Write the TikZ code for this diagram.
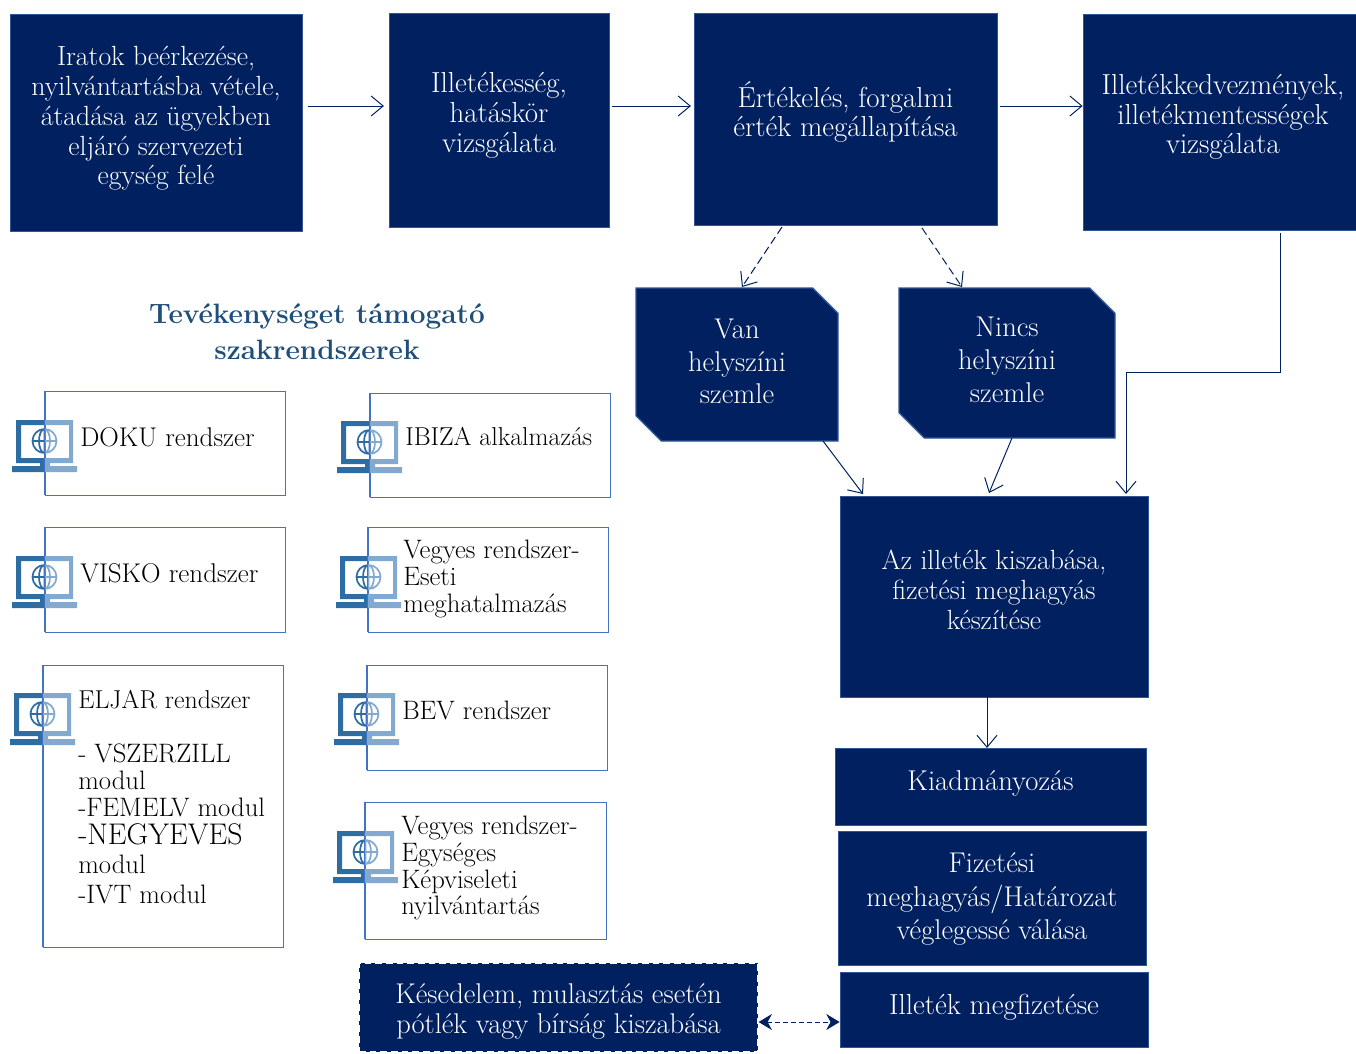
\documentclass[tikz,border=0pt]{standalone}
\usetikzlibrary{arrows.meta,shapes.misc,calc}
\definecolor{navy}{HTML}{002060}
\definecolor{edge}{HTML}{2F5597}
\definecolor{thinb}{HTML}{4472C4}
\definecolor{titleblue}{HTML}{1F4E79}
\definecolor{icd}{HTML}{2E6CA4}
\definecolor{icl}{HTML}{82A9CF}
\tikzset{
 x=0.75pt,y=-0.75pt,
 box/.style={draw=edge,line width=0.6pt,fill=navy,inner sep=0pt,anchor=center},
 snip/.style={box,line width=1.1pt,chamfered rectangle,chamfered rectangle corners={north east,south west},chamfered rectangle xsep=9.5pt,chamfered rectangle ysep=9.5pt,text=white,align=center,font=\fontsize{21.4}{24.5}\selectfont},
 wt/.style={text=white,align=center,inner sep=0pt,font=\fontsize{20.8}{22.3}\selectfont},
 wtb/.style={wt,font=\fontsize{21.7}{22.3}\selectfont},
 sysbox/.style={draw=thinb,line width=0.7pt,inner sep=0pt},
 bt/.style={text=black,align=left,inner sep=0pt,anchor=north west,font=\fontsize{20}{20}\selectfont},
 arr/.style={draw=navy,line width=0.75pt,-{Straight Barb[length=9pt,width=15pt,line width=0.75pt]}},
 darr/.style={arr,dash pattern=on 6pt off 3pt},
 both/.style={draw=navy,line width=0.75pt,dash pattern=on 3.5pt off 2.5pt,{Stealth[length=10pt,width=12pt]}-{Stealth[length=10pt,width=12pt]}},
}
\newcommand\laptopshape[1]{%
 \fill[#1,even odd rule] (16,420) rectangle (73,463) (21,425) rectangle (69,458);
 \fill[#1] (12,466) rectangle (77,472) (40,463) rectangle (50,467);
 \draw[#1,line width=1.3pt] (44.5,441) circle (12) (44.5,429) -- (44.5,453) (32.5,441) -- (56.5,441)
   (44.5,441) ellipse (5.5 and 12);
}
\newcommand\laptop[3]{%
 \begin{scope}[shift={(#1,#2)}]
  \begin{scope}\clip (0,400) rectangle (#3,490); \laptopshape{icd}\end{scope}
  \begin{scope}\clip (#3,400) rectangle (90,490); \laptopshape{icl}\end{scope}
 \end{scope}}
\begin{document}
\begin{tikzpicture}
\useasboundingbox (0,0) rectangle (1356,1053);
\node[box,minimum width=219pt,minimum height=162.75pt] (a) at (156,122.5) {};
\node[box,minimum width=165pt,minimum height=160.5pt] (b) at (499,120) {};
\node[box,minimum width=227.25pt,minimum height=159pt] (c) at (845.5,119) {};
\node[box,minimum width=204.75pt,minimum height=162pt] (d) at (1219.5,122) {};
\node[wt] (at) at (156,118.5) {Iratok beérkezése,\\nyilvántartásba vétele,\\átadása az ügyekben\\eljáró szervezeti\\egység felé};
\node[wtb] (bt) at (499,115.5) {Illetékesség,\\hatáskör\\vizsgálata};
\node[wtb] (ct) at (845.5,112) {Értékelés, forgalmi\\érték megállapítása};
\node[wtb] (dt) at (1223,117) {Illetékkedvezmények,\\illetékmentességek\\vizsgálata};
\node[snip,minimum width=151.5pt,minimum height=114.75pt] (van) at (737,364.5) {\raisebox{1.5pt}{\begin{tabular}{@{}c@{}}Van\\helyszíni\\szemle\end{tabular}}};
\node[snip,minimum width=162pt,minimum height=112.5pt] (nincs) at (1007,363) {\raisebox{1pt}{\begin{tabular}{@{}c@{}}Nincs\\helyszíni\\szemle\end{tabular}}};
\node[box,minimum width=231pt,minimum height=150.75pt] (ill) at (994,596.5) {};
\node[wt] (illt) at (994,590) {Az illeték kiszabása,\\fizetési meghagyás\\készítése};
\node[box,minimum width=233.25pt,minimum height=57.75pt,text=white,font=\fontsize{21.5}{22}\selectfont] (kiad) at (990.5,786.5) {\raisebox{9.5pt}{Kiadmányozás}};
\node[box,minimum width=231pt,minimum height=100.5pt] (fiz) at (992,898) {};
\node[wt,font=\fontsize{21.4}{24.8}\selectfont] (fizt) at (992,899) {Fizetési\\meghagyás/Határozat\\véglegessé válása};
\node[box,minimum width=231pt,minimum height=56.25pt,text=white,font=\fontsize{21.7}{22}\selectfont] (megf) at (994,1009.5) {\raisebox{8pt}{Illeték megfizetése}};
\node[box,draw=white,line width=0.9pt,dash pattern=on 5pt off 3pt,minimum width=299.25pt,minimum height=66.75pt] (kes) at (558.5,1007.5) {};
\node[wt,font=\fontsize{21.4}{22.5}\selectfont] (kest) at (558.5,1011) {Késedelem, mulasztás esetén\\pótlék vagy bírság kiszabása};
\draw[arr,shorten <=4.5pt,shorten >=3.5pt] (a.east |- 0,106) -- (b.west |- 0,106);
\draw[arr,shorten <=2pt,shorten >=2pt] (b.east |- 0,106) -- (c.west |- 0,106);
\draw[arr,shorten <=2pt] (c.east |- 0,106) -- (d.west |- 0,106);
\coordinate (cs1) at (782,227); \coordinate (cs2) at (922,228);
\coordinate (vt) at (742,287); \coordinate (nt) at (962,287);
\draw[darr] (cs1) -- (vt);
\draw[darr] (cs2) -- (nt);
\coordinate (vb) at (823,441); \coordinate (vi) at (863,494);
\coordinate (nb) at (1012,438); \coordinate (ni) at (989,493);
\draw[arr] (vb) -- (vi);
\draw[arr] (nb) -- (ni);
\coordinate (ds) at (1280,233); \coordinate (di) at (1126,494);
\draw[arr] (ds) -- (1280,372) -- (1126,372) -- (di);
\draw[arr] (987,697) -- (987,748);
\draw[both] (kes.east |- 0,1022) -- (megf.west |- 0,1022);
\node[text=titleblue,align=center,inner sep=0pt,font=\fontsize{21}{27}\selectfont\bfseries] (title) at (317,332) {Tevékenységet támogató\\szakrendszerek};
\node[sysbox,minimum width=180pt,minimum height=78pt] (doku) at (165,443) {};
\node[sysbox,minimum width=180pt,minimum height=78pt] (ibiza) at (490,445) {};
\node[sysbox,minimum width=180pt,minimum height=78.75pt] (visko) at (165,579.5) {};
\node[sysbox,minimum width=180pt,minimum height=78.75pt] (veg1) at (488,579.5) {};
\node[sysbox,minimum width=180pt,minimum height=211.5pt] (eljar) at (163,806) {};
\node[sysbox,minimum width=180pt,minimum height=78.75pt] (bev) at (487,717.5) {};
\node[sysbox,minimum width=180.75pt,minimum height=102.75pt] (veg2) at (485.5,870.5) {};
\laptop{0}{0}{45}
\laptop{325}{1}{45}
\laptop{0}{136}{45}
\laptop{324}{136}{44}
\laptop{-2}{273}{45}
\laptop{322}{273}{45}
\laptop{321}{411}{44}
\draw[thinb,line width=.7pt] (doku.north west) -- (doku.south west) (ibiza.north west) -- (ibiza.south west)
 (visko.north west) -- (visko.south west) (veg1.north west) -- (veg1.south west)
 (eljar.north west) -- (eljar.south west) (bev.north west) -- (bev.south west) (veg2.north west) -- (veg2.south west);
\node[bt,font=\fontsize{20.3}{20}\selectfont] (dokut) at (80,427) {DOKU rendszer};
\node[bt,font=\fontsize{19.4}{20}\selectfont] (ibizat) at (405,427) {IBIZA alkalmazás};
\node[bt,font=\fontsize{20.3}{20}\selectfont] (viskot) at (80,563) {VISKO rendszer};
\node[bt] (veg1t) at (403,540) {Vegyes rendszer-\\Eseti\\meghatalmazás};
\node[bt,font=\fontsize{20}{20.3}\selectfont] (eljart) at (78,690) {\fontsize{19.4}{20.3}\selectfont ELJAR rendszer\\[20pt]\fontsize{20}{20.3}\selectfont - VSZERZILL\\modul\\-FEMELV modul\\[0.5pt]\fontsize{22.4}{22.5}\selectfont -NEGYEVES\\[2pt]modul\\[2pt]-IVT modul};
\node[bt] (bevt) at (402,701) {BEV rendszer};
\node[bt] (veg2t) at (401,816) {Vegyes rendszer-\\Egységes\\Képviseleti\\nyilvántartás};
\end{tikzpicture}
\end{document}
